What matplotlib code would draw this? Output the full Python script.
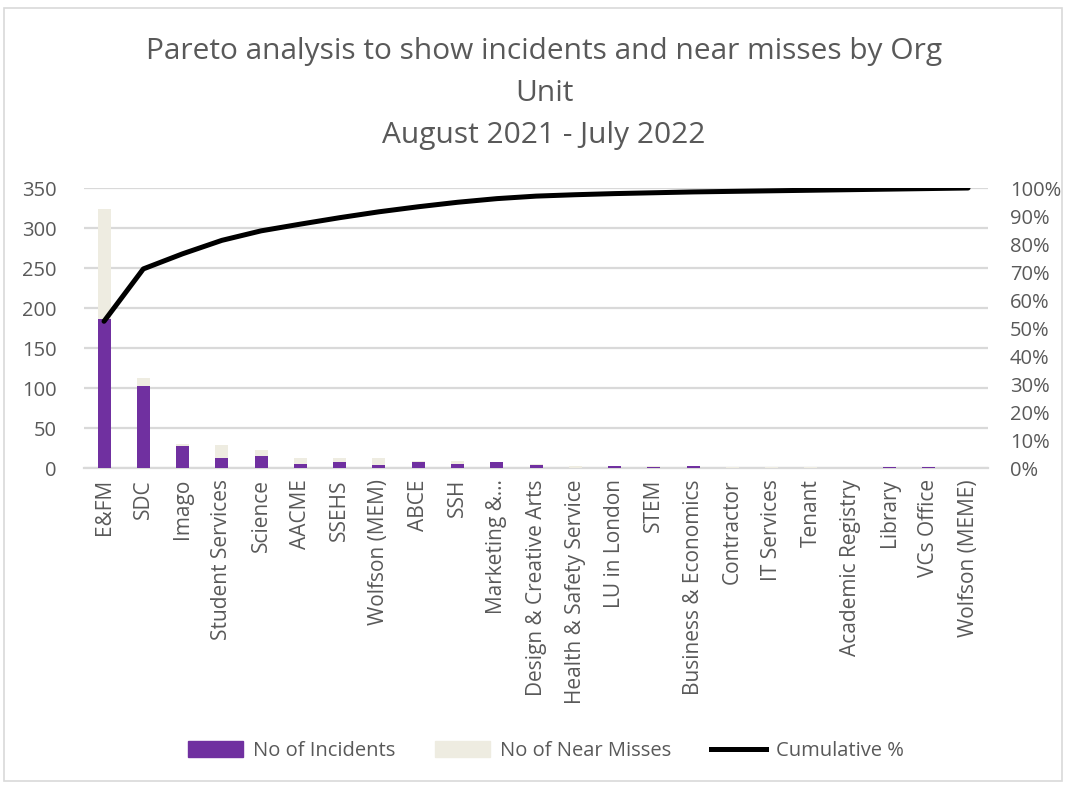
import matplotlib
matplotlib.use("Agg")
import matplotlib.pyplot as plt
from matplotlib.patches import Rectangle
from matplotlib.lines import Line2D
from matplotlib.ticker import PercentFormatter
import numpy as np

categories = ["E&FM", "SDC", "Imago", "Student Services", "Science", "AACME", "SSEHS",
              "Wolfson (MEM)", "ABCE", "SSH", "Marketing &...", "Design & Creative Arts",
              "Health & Safety Service", "LU in London", "STEM", "Business & Economics",
              "Contractor", "IT Services", "Tenant", "Academic Registry", "Library",
              "VCs Office", "Wolfson (MEME)"]
incidents = [186, 103, 28, 12, 15, 5, 8, 4, 7, 5, 7, 4, 0, 3, 1, 2, 0, 0, 0, 0, 1, 1, 0]
near_misses = [138, 10, 2, 17, 7, 8, 5, 8, 2, 4, 0, 1, 2, 0, 1, 0, 1, 1, 1, 0.5, 0, 0, 0.5]
cumulative_pct = [52.4, 71.1, 76.5, 81.3, 84.7, 87.1, 89.4, 91.5, 93.3, 94.9, 96.2, 97.1,
                  97.6, 98.0, 98.3, 98.6, 98.8, 99.0, 99.2, 99.4, 99.6, 99.8, 100.0]

title = "Pareto analysis to show incidents and near misses by Org\nUnit\nAugust 2021 - July 2022"
left_ticks = [0, 50, 100, 150, 200, 250, 300, 350]
right_ticks = [0, 10, 20, 30, 40, 50, 60, 70, 80, 90, 100]

plt.rcParams['font.family'] = ['Open Sans', 'DejaVu Sans']
TXT = "#595959"
PURPLE = "#7030A0"
CREAM = "#EEECE1"
GRID = "#D9D9D9"

W, H = 1070, 785
fig = plt.figure(figsize=(W / 100, H / 100), dpi=100)

# outer chart border
fig.patches.append(Rectangle((4 / W, 1 - 781 / H), (1062 - 4) / W, (781 - 8) / H,
                             transform=fig.transFigure, fill=False, edgecolor=GRID, lw=1.2))

left, right, top, bottom = 84.4, 987.7, 188, 468
ax = fig.add_axes([left / W, 1 - bottom / H, (right - left) / W, (bottom - top) / H])

x = np.arange(len(categories))
bw = 0.33
ax.bar(x, incidents, width=bw, color=PURPLE, zorder=3, label="No of Incidents")
ax.bar(x, near_misses, width=bw, bottom=incidents, color=CREAM, zorder=3, label="No of Near Misses")

ax.set_xlim(-0.5, len(categories) - 0.5)
ax.set_ylim(0, 350)
ax.set_yticks(left_ticks)
ax.yaxis.grid(True, color=GRID, lw=1.6, zorder=0)
ax.set_axisbelow(True)
for s in ax.spines.values():
    s.set_visible(False)
ax.spines['bottom'].set_visible(True)
ax.spines['bottom'].set_color(GRID)
ax.spines['bottom'].set_linewidth(1.6)
ax.tick_params(axis='y', length=0, labelsize=14.5, labelcolor=TXT, pad=20)
ax.set_xticks(x)
ax.set_xticklabels(categories, rotation=90, fontsize=15, color=TXT)
ax.tick_params(axis='x', length=0, pad=8)

ax2 = ax.twinx()
ax2.plot(x, cumulative_pct, color="black", lw=3.6, solid_capstyle='round', zorder=5)
ax2.set_ylim(0, 100)
ax2.set_yticks(right_ticks)
ax2.yaxis.set_major_formatter(PercentFormatter(decimals=0))
ax2.tick_params(axis='y', length=0, labelsize=14.5, labelcolor=TXT, pad=16)
for s in ax2.spines.values():
    s.set_visible(False)

fig.text(544 / W, 1 - 37 / H, title, ha='center', va='top', fontsize=21.5,
         color=TXT, linespacing=1.6)

handles = [Rectangle((0, 0), 1, 1, color=PURPLE),
           Rectangle((0, 0), 1, 1, color=CREAM),
           Line2D([0], [0], color="black", lw=3.6)]
labels = ["No of Incidents", "No of Near Misses", "Cumulative %"]
fig.legend(handles, labels, loc='center', bbox_to_anchor=(546 / W, 1 - 751 / H), ncol=3,
           frameon=False, fontsize=14.5, labelcolor=TXT, handlelength=2.7, handleheight=0.8,
           columnspacing=2.0, handletextpad=0.5)

fig.savefig("out.png", dpi=100)
